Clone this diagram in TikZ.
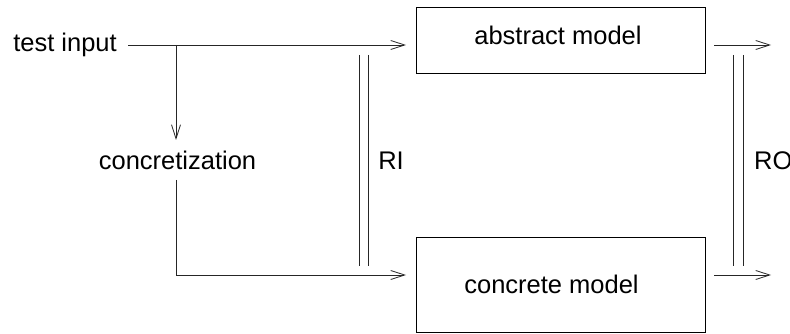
\documentclass[tikz,border=0pt]{standalone}
\usepackage{fontspec}
\setmainfont{Liberation Sans}
\usetikzlibrary{arrows.meta}
\begin{document}
\begin{tikzpicture}[x=1pt,y=-1pt,
  every node/.style={font=\fontsize{25.5}{30}\selectfont, inner sep=0pt},
  lbl/.style={anchor=base},
  box/.style={draw, line width=0.8pt, minimum width=289pt, inner sep=0pt},
  conn/.style={line width=0.8pt, draw=black!85},
  arr/.style={conn, -{Straight Barb[length=14pt,width=9pt,line width=0.8pt]}}]
\useasboundingbox (0,0) rectangle (790,334);
% boxes
\node[box, minimum height=66pt] (abs) at (560.5,40) {};
\node[box, minimum height=95pt] (con) at (560.5,285) {};
\node[lbl] (abstxt) at (558,45) {abstract model};
\node[lbl] (contxt) at (551.5,293) {concrete model};
% labels
\node[lbl] (ti) at (65,52) {test input};
\node[lbl] (cz) at (177.5,169) {concretization};
\node[lbl] (ri) at (391,170) {RI};
\node[lbl, anchor=base west] (ro) at (754,170) {RO};
% coordinates
\coordinate (tistart) at (128,45);
\coordinate (split) at (176,45);
\coordinate (absin) at (406,45);
\coordinate (czbot) at (176,180);
\coordinate (corner) at (176,275);
\coordinate (conin) at (406,275);
\coordinate (absout1) at (714,45);
\coordinate (absout2) at (771,45);
\coordinate (conout1) at (714,275);
\coordinate (conout2) at (771,275);
\coordinate (ritopa) at (359,55);
\coordinate (ribota) at (359,266);
\coordinate (ritopb) at (368,55);
\coordinate (ribotb) at (368,266);
\coordinate (rotopa) at (733.5,55);
\coordinate (robota) at (733.5,266);
\coordinate (rotopb) at (743,55);
\coordinate (robotb) at (743,266);
% connectors
\draw[arr] (tistart) -- (absin);
\draw[arr] (split) -- (176,140);
\draw[arr] (czbot) -- (corner) -- (conin);
\draw[arr] (absout1) -- (absout2);
\draw[arr] (conout1) -- (conout2);
\draw[conn] (ritopa) -- (ribota);
\draw[conn] (ritopb) -- (ribotb);
\draw[conn] (rotopa) -- (robota);
\draw[conn] (rotopb) -- (robotb);
\end{tikzpicture}
\end{document}
